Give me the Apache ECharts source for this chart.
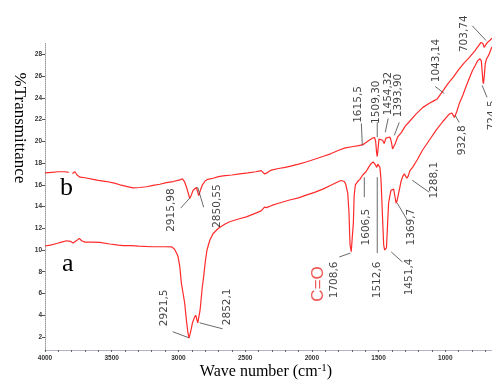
<!DOCTYPE html>
<html><head><meta charset="utf-8">
<script src="https://cdn.jsdelivr.net/npm/echarts@6/dist/echarts.min.js"></script>
<style>html,body{margin:0;padding:0;background:#fff}#c{width:492px;height:387px}</style>
</head><body><div id="c"></div>
<script>
// Curve b (upper)
const waveB = [4000,3950,3900,3850,3822,3808,3795,3776,3760,3738,3700,3639,3600,3539,3480,3439,3390,3340,3290,3239,3190,3140,3090,3040,2990,2970,2955,2940,2928,2916,2905,2890,2878,2865,2855,2848,2838,2820,2800,2780,2740,2700,2666,2600,2541,2480,2420,2379,2365,2355,2347,2335,2320,2304,2250,2200,2167,2100,2043,1980,1918,1860,1794,1750,1700,1650,1615,1600,1570,1545,1530,1522,1515,1510,1504,1497,1485,1470,1458,1445,1432,1415,1405,1395,1387,1375,1357,1330,1300,1270,1220,1170,1120,1090,1060,1043,1020,980,940,900,860,821,780,750,733,718,709,700,684,665,650];
const transB = [17.1,17.15,17.2,17.2,17.15,'-',17.05,17.2,16.9,16.7,16.65,16.5,16.4,16.3,16.15,16.0,15.85,15.72,15.75,15.82,15.95,16.05,16.2,16.3,16.45,16.55,16.3,15.8,15.3,14.75,15.0,15.5,15.65,15.75,15.3,15.0,15.4,16.0,16.35,16.5,16.6,16.75,16.82,16.9,17.0,17.1,17.2,17.3,17.3,17.0,16.85,17.1,17.25,17.35,17.5,17.6,17.7,17.9,18.1,18.35,18.6,18.85,19.2,19.4,19.5,19.6,19.7,19.85,20.1,20.3,20.35,20.0,19.0,18.6,19.3,20.2,20.35,20.1,19.8,20.3,20.45,20.4,20.0,19.3,19.2,19.8,20.4,20.8,21.4,21.8,22.5,23.1,23.5,23.7,23.9,24.2,24.6,25.3,25.9,26.6,27.2,27.7,28.3,28.8,29.1,29.0,28.65,28.8,29.1,29.3,29.5];
// Curve a (lower)
const waveA = [4000,3960,3912,3870,3838,3810,3790,3780,3760,3743,3725,3701,3650,3589,3514,3450,3414,3350,3300,3200,3100,3050,3030,3010,3003,2990,2978,2965,2953,2940,2930,2921,2912,2903,2895,2880,2870,2862,2855,2848,2840,2835,2822,2811,2798,2786,2765,2741,2700,2650,2616,2550,2491,2430,2380,2367,2355,2340,2300,2250,2167,2100,2043,1980,1918,1850,1800,1781,1769,1756,1745,1731,1722,1714,1705,1695,1689,1683,1674,1657,1640,1619,1606,1594,1575,1556,1540,1530,1522,1514,1506,1498,1490,1482,1472,1462,1455,1448,1441,1432,1425,1415,1407,1395,1387,1377,1369,1362,1350,1332,1318,1307,1295,1288,1278,1265,1245,1210,1170,1120,1070,1020,971,950,932,915,896,870,846,820,797,775,759,740,730,724,718,714,708,700,690,672,660,650];
const transA = [10.37,10.45,10.6,10.75,10.85,10.8,10.65,10.8,10.9,11.07,10.85,10.73,10.72,10.7,10.55,10.45,10.4,10.4,10.35,10.3,10.3,10.28,10.1,9.6,9.4,8.5,6.95,6.0,5.1,3.5,2.5,1.9,2.3,2.8,3.3,3.8,4.0,3.6,3.3,3.4,4.3,4.8,6.5,7.55,9.0,10.0,10.9,11.5,12.0,12.4,12.6,12.85,13.05,13.35,13.6,13.7,13.95,13.9,14.1,14.3,14.6,14.8,15.05,15.3,15.6,16.0,16.3,16.4,16.4,16.3,16.0,15.2,13.5,10.5,9.85,9.9,12.5,15.0,16.0,16.3,16.5,16.9,17.0,17.2,17.6,17.95,18.1,18.2,17.8,17.6,17.9,17.9,17.6,16.5,13.5,10.5,10.0,10.0,10.2,12.5,14.3,15.0,15.5,15.65,15.6,14.9,14.3,14.5,15.2,16.3,16.8,17.0,16.9,16.6,16.8,17.3,17.6,18.3,19.2,20.1,21.0,21.8,22.5,22.6,22.2,22.7,23.45,24.2,25.0,25.8,26.5,27.0,27.4,27.6,27.4,26.5,25.5,25.3,26.0,27.2,27.6,28.0,28.4,28.7];

const xTickLabels = [4000,3500,3000,2500,2000,1500,1000];
const yTickLabels = [2,4,6,8,10,12,14,16,18,20,22,24,26,28];

// Peak annotations: text, anchor [wavenumber, %T] of text centre
const peakTexts = ['2915,98','2850,55','2921,5','2852,1','1708,6','1606,5','1512,6','1451,4','1369,7','1288,1','932,8','1615,5','1509,30','1454,32','1393,90','1043,14','703,74','724,5'];
const peakTextAt = [[3050,13.67],[2706,14.04],[3103,4.68],[2631,4.77],[1831,7.25],[1592,12.11],[1510,7.25],[1270,7.52],[1255,12.11],[1083,16.42],[874,20.09],[1652,23.39],[1514,23.6],[1428,24.4],[1350,24.22],[1068,27.43],[859,29.9],[649,22.39]];
// leader lines [w1,v1,w2,v2]
const leaders = [[2983,13.85,2916,14.77],[2856,15.78,2811,13.94],[3043,2.48,2923,1.93],[2841,3.30,2669,2.75],[1794,9.36,1711,9.72],[1607,16.7,1607,14.86],[1510,16.7,1510,9.72],[1405,9.82,1322,8.9],[1360,14.31,1285,12.75],[1248,16.42,1121,15.32],[926,22.39,896,21.74],[1629,21.65,1622,19.63],[1510,21.75,1510,20.37],[1428,22.11,1450,20.83],[1345,21.74,1382,20.55],[1076,25.05,1008,24.4],[799,30.64,694,29.27],[724,25.14,687,24.04]];
const carbonylText = 'C=O';
const carbonylAt = [1951,6.88];

const zip = (w, t) => w.map((x, i) => [x, t[i]]);
const minorX = []; for (let v = 700; v <= 4000; v += 100) minorX.push(v);

const chart = echarts.init(document.getElementById('c'), null, {renderer: 'canvas'});
const red = '#ff2b2b';
const series = [
  {type: 'line', data: zip(waveB, transB), showSymbol: false, symbol: 'none', clip: false, connectNulls: false,
   lineStyle: {color: red, width: 1.2}, silent: true, z: 3},
  {type: 'line', data: zip(waveA, transA), showSymbol: false, symbol: 'none', clip: false,
   lineStyle: {color: red, width: 1.2}, silent: true, z: 3},
  {type: 'scatter', data: peakTextAt.map((p, i) => ({value: p, name: peakTexts[i]})), symbolSize: 1, clip: false,
   itemStyle: {color: 'rgba(0,0,0,0)'}, silent: true, z: 5,
   label: {show: true, position: 'inside', rotate: 90, formatter: p => p.name, color: '#111',
     fontFamily: 'DejaVu Sans', fontSize: 10.5}},
  {type: 'scatter', data: [{value: carbonylAt, name: carbonylText}], symbolSize: 1, clip: false,
   itemStyle: {color: 'rgba(0,0,0,0)'}, silent: true, z: 5,
   label: {show: true, position: 'inside', rotate: 90, formatter: p => p.name, color: '#e8302c',
     fontFamily: 'Liberation Sans', fontSize: 17}}
];
leaders.forEach(l => series.push({type: 'line', data: [[l[0], l[1]], [l[2], l[3]]], symbol: 'none', clip: false,
  lineStyle: {color: '#444', width: 0.8}, silent: true, z: 4}));

chart.setOption({
  animation: false,
  grid: {left: 45, right: -1, top: 43.5, bottom: 37},
  xAxis: {type: 'value', min: 650, max: 4000, inverse: true,
    axisLine: {show: true, onZero: false, lineStyle: {color: '#b8b0c8', width: 1}},
    axisTick: {show: true, customValues: minorX, length: 2, lineStyle: {color: '#666'}},
    axisLabel: {customValues: xTickLabels, formatter: v => String(v), fontSize: 6.5, fontWeight: 'bold', color: '#333', margin: 5, fontFamily: 'Liberation Sans'},
    splitLine: {show: false}},
  yAxis: {type: 'value', min: 0.8, max: 29,
    axisLine: {show: true, lineStyle: {color: '#999', width: 1, type: 'dotted'}},
    axisTick: {show: true, customValues: yTickLabels, length: 3, lineStyle: {color: '#555'}},
    axisLabel: {customValues: yTickLabels, formatter: v => String(v), fontSize: 6.5, fontWeight: 'bold', color: '#333', margin: 3, fontFamily: 'Liberation Sans'},
    splitLine: {show: false}},
  series: series,
  graphic: [
    {type: 'text', left: 60, top: 175, style: {text: 'b', font: '26px "Liberation Serif"', fill: '#000'}},
    {type: 'text', left: 62, top: 251, style: {text: 'a', font: '26px "Liberation Serif"', fill: '#000'}},
    {type: 'text', x: 19, y: 128, rotation: -Math.PI / 2, style: {text: '%Transmittance', font: '17px "Liberation Serif"', fill: '#000', align: 'center', verticalAlign: 'middle'}},
    {type: 'text', x: 266, y: 372, style: {text: 'Wave number (cm{s|-1})', rich: {s: {fontSize: 11, verticalAlign: 'top', padding: [0,0,8,0], fontFamily: 'Liberation Serif'}}, font: '16px "Liberation Serif"', fill: '#000', align: 'center', verticalAlign: 'middle'}}
  ]
});
</script></body></html>
